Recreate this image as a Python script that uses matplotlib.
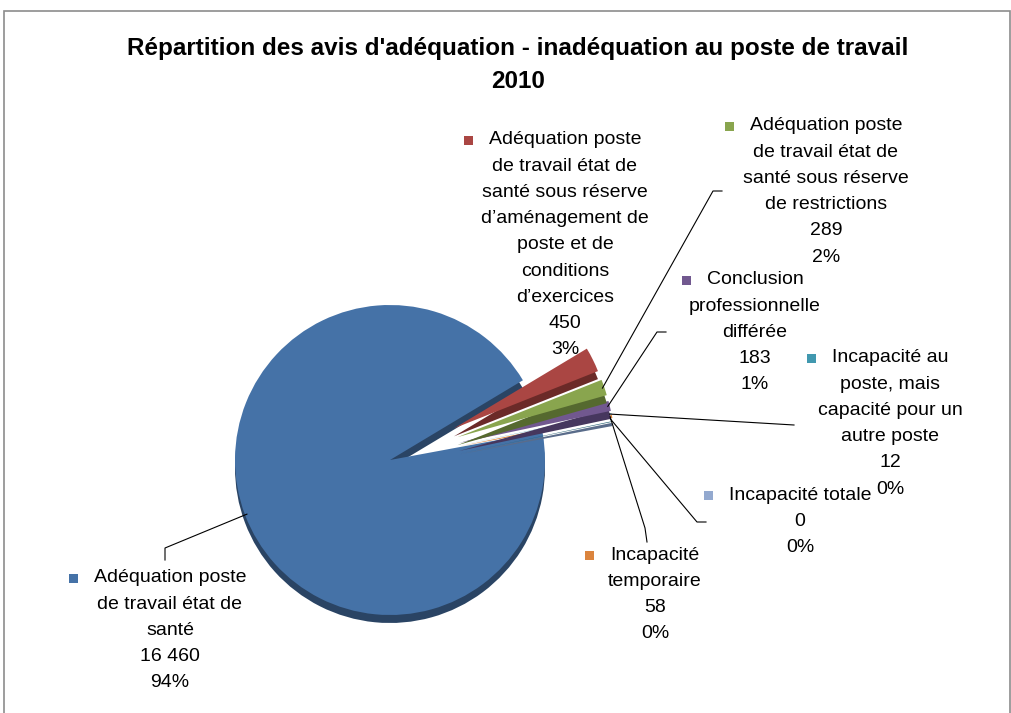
import numpy as np
import matplotlib
matplotlib.use("Agg")
import matplotlib.pyplot as plt
from matplotlib.patches import Rectangle

plt.rcParams['font.family'] = ['Liberation Sans', 'DejaVu Sans']

# data
names = [
    "Adéquation poste\nde travail état de\nsanté",
    "Adéquation poste\nde travail état de\nsanté sous réserve\nd’aménagement de\nposte et de\nconditions\nd’exercices",
    "Adéquation poste\nde travail état de\nsanté sous réserve\nde restrictions",
    "Conclusion\nprofessionnelle\ndifférée",
    "Incapacité au\nposte, mais\ncapacité pour un\nautre poste",
    "Incapacité\ntemporaire",
    "Incapacité totale",
]
counts = [16460, 450, 289, 183, 12, 58, 0]
count_labels = ["16 460", "450", "289", "183", "12", "58", "0"]

colors = ['#4572A7', '#AA4643', '#89A54E', '#71588F', '#4198AF', '#DB843D', '#93A9CF']
dark = ['#2A4464', '#6B2A28', '#55692F', '#46375E', '#2A6475', '#5A6C8A', '#5D6E88']

W, H = 1012, 713
fig = plt.figure(figsize=(W / 100, H / 100), dpi=100)
ax = fig.add_axes([0, 0, 1, 1])

def px(x, y):
    return x, H - y

cx, cy = px(390, 460)
R = 155
# matplotlib's explode offset is in data units here
explode = [0] + [0.46 * R] * (len(counts) - 1)
start = 10.5
depth = 8

# 3d side (darker copy shifted down), then top faces
side, _ = ax.pie(counts, colors=dark, explode=explode, startangle=start, counterclock=False,
                 radius=R, center=(cx, cy - depth), normalize=True, frame=True,
                 wedgeprops=dict(linewidth=0))
top, _ = ax.pie(counts, colors=colors, explode=explode, startangle=start, counterclock=False,
                radius=R, center=(cx, cy), normalize=True, frame=True,
                wedgeprops=dict(linewidth=0))
ax.set_xlim(0, W)
ax.set_ylim(0, H)
ax.set_aspect('auto')
ax.axis('off')
n = len(counts)
for i in range(n):
    z = 2 if i == 0 else 10 - i
    side[i].set_zorder(z)
    top[i].set_zorder(z + 0.5)

# label layout: centre x, first line y (pixels from top)
label_pos = [(170, 578), (565, 140), (826, 126), (755, 280), (890, 358), (655, 555), (800, 495)]
# leader line elbows (pixels from top), pie end computed from wedge
leaders = {
    0: [(165, 560), (165, 548)],
    2: [(722, 191), (713, 191)],
    3: [(666, 332), (657, 332)],
    4: [(794, 425)],
    5: [(647, 542), (645, 528)],
    6: [(706, 522), (697, 522)],
}

total = sum(counts)
line_h = 26.2
fs = 14
for i in range(n):
    pct = "%d%%" % round(100 * counts[i] / total)
    lines = names[i].split("\n") + [count_labels[i], pct]
    x0, y0 = label_pos[i]
    first = None
    for k, s in enumerate(lines):
        t = ax.text(*px(x0, y0 + k * line_h), s, ha='center', va='center', fontsize=fs, color='black', zorder=20)
        if k == 0:
            first = t
    fig.canvas.draw()
    bb = first.get_window_extent()
    ax.add_patch(Rectangle((bb.x0 - 25, bb.y0 + bb.height / 2 - 5), 9, 9, color=colors[i], zorder=20, lw=0))

    if i in leaders:
        w = top[i]
        mid = np.deg2rad((w.theta1 + w.theta2) / 2)
        ex, ey = w.center
        tip = (ex + (R - 2) * np.cos(mid), ey + (R - 2) * np.sin(mid))
        pts = [px(*p) for p in leaders[i]] + [tip]
        ax.plot([p[0] for p in pts], [p[1] for p in pts], color='black', lw=0.8, zorder=15)

ax.text(*px(518, 48), "Répartition des avis d'adéquation - inadéquation au poste de travail",
        ha='center', va='center', fontsize=17.5, fontweight='bold')
ax.text(*px(518, 82), "2010", ha='center', va='center', fontsize=17.5, fontweight='bold')

ax.add_patch(Rectangle((4.5, -5), 1006, H - 11 + 5, fill=False, edgecolor='#8c8c8c', lw=1.2, zorder=30))

fig.savefig("out.png", dpi=100)
